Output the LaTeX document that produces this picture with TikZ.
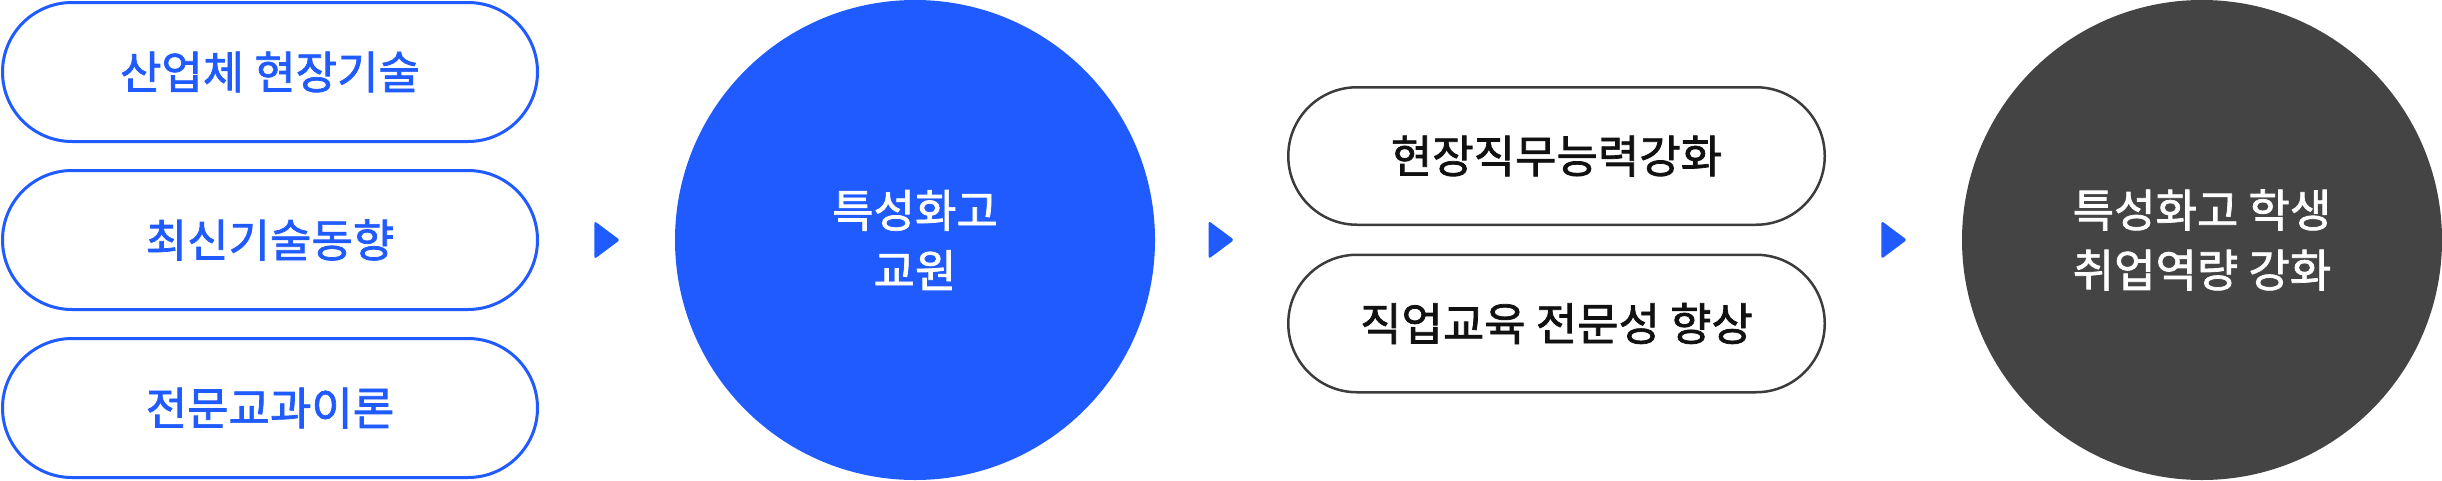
\documentclass[tikz,border=0pt]{standalone}
\usepackage{fontspec}
\newfontfamily\kr[FakeBold=1.6]{Noto Sans CJK KR}
\usetikzlibrary{calc}
\definecolor{kblue}{RGB}{31,91,255}
\definecolor{kdark}{RGB}{68,68,68}
\definecolor{kline}{RGB}{60,60,60}
\definecolor{ktext}{RGB}{17,17,17}
\begin{document}
\begin{tikzpicture}[x=1pt,y=-1pt,
  lbl/.style={font=\kr\fontsize{45}{60}\selectfont, align=center, inner sep=0pt},
  bluepill/.style={lbl, draw=kblue, line width=3pt, text=kblue, rounded corners=69.5pt,
    minimum width=535pt, minimum height=139pt},
  greypill/.style={lbl, draw=kline, line width=2.5pt, text=ktext, rounded corners=68.75pt,
    minimum width=536.5pt, minimum height=137.5pt},
  bigdisc/.style={lbl, circle, minimum size=480pt, text=white},
  tri/.style={fill=kblue, rounded corners=2.5pt}]
\useasboundingbox (0,0) rectangle (2442,480);
\node[bluepill] (L1) at (270,72) {산업체 현장기술};
\node[bluepill] (L2) at (270,240) {최신기술동향};
\node[bluepill] (L3) at (270,408) {전문교과이론};
\node[bigdisc, fill=kblue] (C1) at (915,240) {특성화고\\교원};
\node[greypill] (R1) at (1556.5,156) {현장직무능력강화};
\node[greypill] (R2) at (1556.5,323.5) {직업교육 전문성 향상};
\node[bigdisc, fill=kdark] (C2) at (2202,240) {특성화고 학생\\취업역량 강화};
\coordinate (A1) at ($(L2.east)!0.5!(C1.west)$);
\coordinate (A2) at ($(C1.east)!0.5!($(R1.west)!0.5!(R2.west)$)$);
\coordinate (A3) at ($($(R1.east)!0.5!(R2.east)$)!0.5!(C2.west)$);
\foreach \a in {A1,A2,A3}{
  \fill[tri] ($(\a)+(-12.5,-19)$) -- ($(\a)+(13,0)$) -- ($(\a)+(-12.5,19)$) -- cycle;
}
\end{tikzpicture}
\end{document}
